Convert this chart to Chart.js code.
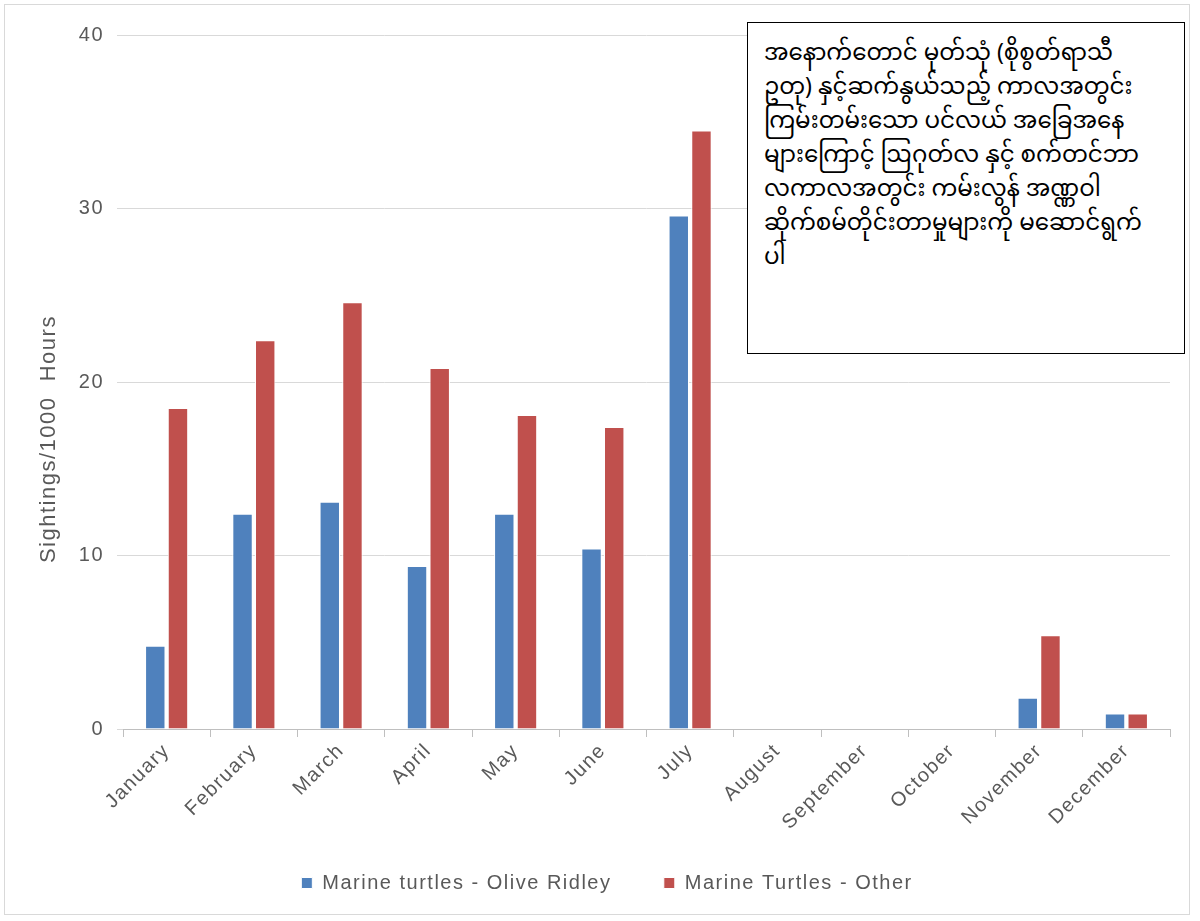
<!DOCTYPE html>
<html>
<head>
<meta charset="utf-8">
<title>Marine turtle sightings</title>
<script src="https://cdn.jsdelivr.net/npm/chart.js@4"></script>
<style>
  body { margin: 0; background: #fff; }
  .wrap { position: relative; width: 1200px; height: 921px; }
  .frame { position: absolute; left: 4px; top: 4px; width: 1186px; height: 911px; border: 1px solid #d9d9d9; box-sizing: border-box; pointer-events: none; }
  #chart { position: absolute; left: 0; top: 0; }
  .note {
    position: absolute; left: 747px; top: 22px; width: 438px; height: 332px;
    box-sizing: border-box; border: 1.5px solid #000; background: #fff;
    padding: 15px 16px; font-family: "Noto Sans Myanmar", "Myanmar Text", "Padauk", "Noto Sans", sans-serif;
    font-size: 23px; line-height: 34px; color: #000; white-space: nowrap;
  }
</style>
</head>
<body>
<div class="wrap">
  <canvas id="chart" width="1200" height="921"></canvas>
  <div class="frame"></div>
  <div class="note">
    အနောက်တောင် မုတ်သုံ (စိုစွတ်ရာသီ<br>
    ဥတု) နှင့်ဆက်နွယ်သည့် ကာလအတွင်း<br>
    ကြမ်းတမ်းသော ပင်လယ် အခြေအနေ<br>
    များကြောင့် ဩဂုတ်လ နှင့် စက်တင်ဘာ<br>
    လကာလအတွင်း ကမ်းလွန် အဏ္ဏဝါ<br>
    ဆိုက်စမ်တိုင်းတာမှုများကို မဆောင်ရွက်<br>
    ပါ
  </div>
</div>
<script>
const months = ["January","February","March","April","May","June","July","August","September","October","November","December"];
const oliveRidley = [4.8, 12.4, 13.1, 9.4, 12.4, 10.4, 29.6, 0, 0, 0, 1.8, 0.9];
const otherTurtles = [18.5, 22.4, 24.6, 20.8, 18.1, 17.4, 34.5, 0, 0, 0, 5.4, 0.9];
const yTicks = [0, 10, 20, 30, 40];

const tickGray = "#595959";
const font = { family: "'Liberation Sans', Arial, sans-serif", size: 20 };
const nbsp = n => "\u00a0".repeat(n);

// slightly spaced-out lettering, set on the context before measuring and drawing
const spacing = {
  id: "spacing",
  beforeUpdate: c => { c.ctx.letterSpacing = "1.5px"; },
  beforeDraw: c => { c.ctx.letterSpacing = "1.5px"; }
};

// trailing blanks push the rotated axis title a little below the middle
const yTitle = "Sightings/1000  Hours" + nbsp(15);

new Chart(document.getElementById("chart"), {
  type: "bar",
  data: {
    labels: months,
    datasets: [
      { label: "Marine turtles - Olive Ridley", data: oliveRidley, backgroundColor: "#4f81bd", borderColor: "#ffffff", borderWidth: 1 },
      { label: "Marine Turtles - Other", data: otherTurtles, backgroundColor: "#c0504d", borderColor: "#ffffff", borderWidth: 1 }
    ]
  },
  plugins: [spacing],
  options: {
    responsive: false,
    animation: false,
    datasets: { bar: { categoryPercentage: 0.52, barPercentage: 0.9 } },
    layout: { padding: { top: 35, right: 30, left: 44, bottom: 18 } },
    plugins: {
      tooltip: { enabled: false },
      legend: {
        position: "bottom",
        labels: {
          color: tickGray, font: font, boxWidth: 11, boxHeight: 11, padding: 10,
          // wider gap after the first entry
          generateLabels: chart => Chart.defaults.plugins.legend.labels.generateLabels(chart)
            .map((item, i) => i === 0 ? { ...item, text: item.text + nbsp(6) } : item)
        }
      }
    },
    scales: {
      x: {
        afterFit: axis => { axis.height = 134; },
        grid: { display: true, drawOnChartArea: false, color: "#bfbfbf", tickLength: 8 },
        border: { color: "#bfbfbf" },
        ticks: { color: tickGray, font: font, minRotation: 45, maxRotation: 45, padding: 2 }
      },
      y: {
        min: 0,
        max: 40,
        afterBuildTicks: axis => { axis.ticks = yTicks.map(v => ({ value: v })); },
        afterFit: axis => { axis.width = 79; },
        grid: { color: "#d9d9d9", tickLength: 6 },
        border: { display: false },
        ticks: { color: tickGray, font: font, padding: 13 },
        title: { display: true, text: yTitle, color: tickGray, font: { family: font.family, size: 22 }, padding: { top: -8, bottom: 0 } }
      }
    }
  }
});
</script>
</body>
</html>
